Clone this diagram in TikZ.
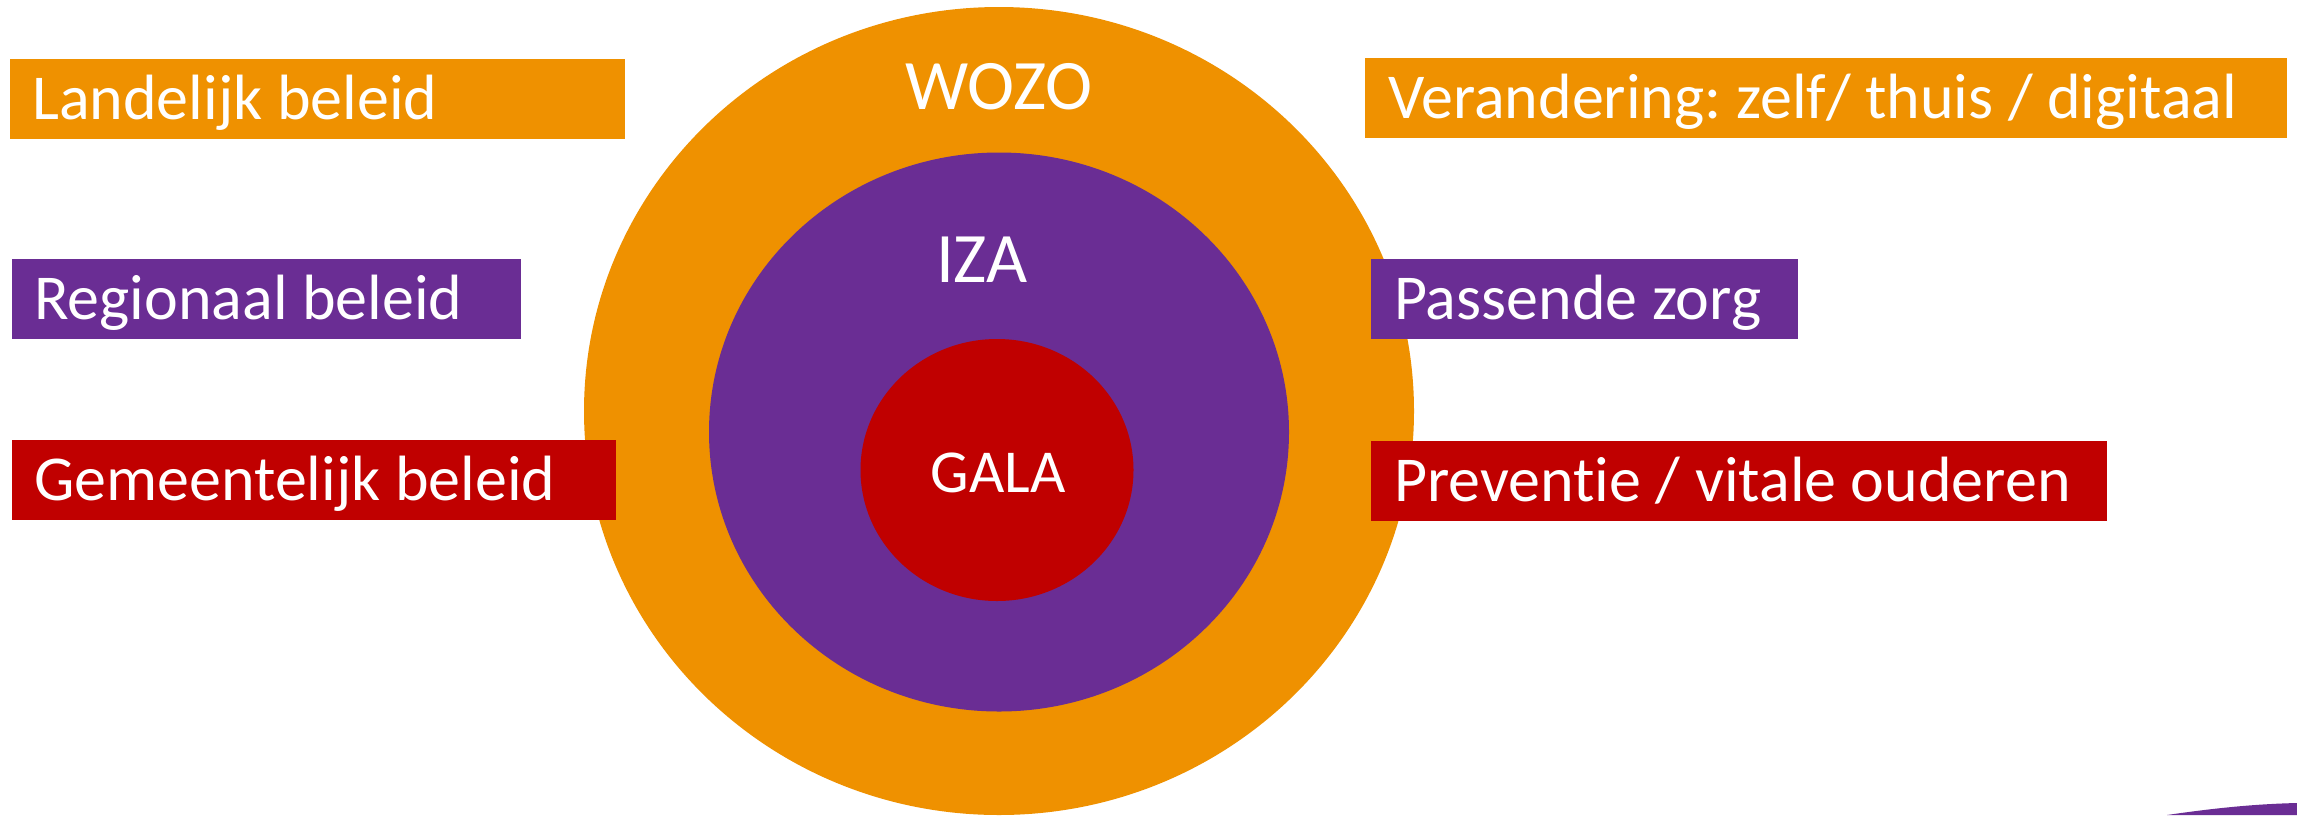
\documentclass[tikz,border=0pt]{standalone}
\usepackage{fontspec}
\setmainfont{Carlito}[Ligatures=NoCommon]
\frenchspacing
\usetikzlibrary{shapes.geometric}
\definecolor{orangeC}{HTML}{EF9100}
\definecolor{purpleC}{HTML}{6A2D94}
\definecolor{redC}{HTML}{C00000}
\newcommand{\boxfnt}{\fontsize{64pt}{70pt}\selectfont}
\newcommand{\ringfnt}{\fontsize{71pt}{78pt}\selectfont}
\newcommand{\galafnt}{\fontsize{61pt}{68pt}\selectfont}
\tikzset{
  infobox/.style={inner sep=0pt, anchor=north west, minimum height=80pt, draw=none},
  boxtext/.style={anchor=west, inner sep=0pt, text=white, font=\boxfnt,
    text height=41.2pt, text depth=0pt},
  ring/.style={ellipse, inner sep=0pt, draw=none},
  ringlabel/.style={anchor=base, text=white, inner sep=0pt},
}
\begin{document}
\begin{tikzpicture}[x=1pt,y=-1pt]
\useasboundingbox[fill=white] (0,0) rectangle (2297,815);
% rings
\node[ring, fill=orangeC, minimum width=830pt, minimum height=808pt] (wozo) at (999,411) {};
\node[ring, fill=purpleC, minimum width=580pt, minimum height=559pt] (iza) at (999,432) {};
\node[ring, fill=redC, minimum width=273pt, minimum height=262pt] (gala) at (997,470) {};
\node[ringlabel, font=\ringfnt] (wozolbl) at (999,109) {WOZO};
\node[ringlabel, font=\ringfnt] (izalbl) at (982,282) {IZA};
\node[ringlabel, font=\galafnt] (galalbl) at (998,492) {GALA};
% left boxes
\node[infobox, fill=orangeC, minimum width=615pt] (landelijk) at (10,59) {};
\node[infobox, fill=purpleC, minimum width=509pt] (regionaal) at (12,259) {};
\node[infobox, fill=redC, minimum width=604pt] (gemeente) at (12,440) {};
% right boxes
\node[infobox, fill=orangeC, minimum width=922pt] (verandering) at (1365,58) {};
\node[infobox, fill=purpleC, minimum width=427pt] (passende) at (1371,259) {};
\node[infobox, fill=redC, minimum width=736pt] (preventie) at (1371,441) {};
% box texts
\node[boxtext] (landelijktxt) at ([xshift=22pt]landelijk.west) {Landelijk beleid};
\node[boxtext] (regionaaltxt) at ([xshift=22pt]regionaal.west) {Regionaal beleid};
\node[boxtext] (gemeentetxt) at ([xshift=22pt]gemeente.west) {Gemeentelijk beleid};
\node[boxtext] (veranderingtxt) at ([xshift=23pt]verandering.west) {Verandering: zelf/ thuis / digitaal};
\node[boxtext] (passendetxt) at ([xshift=23pt]passende.west) {Passende zorg};
\node[boxtext] (preventietxt) at ([xshift=23pt]preventie.west) {Preventie / vitale ouderen};
% corner swoosh
\fill[purpleC] (2167,815) .. controls (2215,808) and (2255,804) .. (2297,803) -- (2297,815) -- cycle;
\end{tikzpicture}
\end{document}
